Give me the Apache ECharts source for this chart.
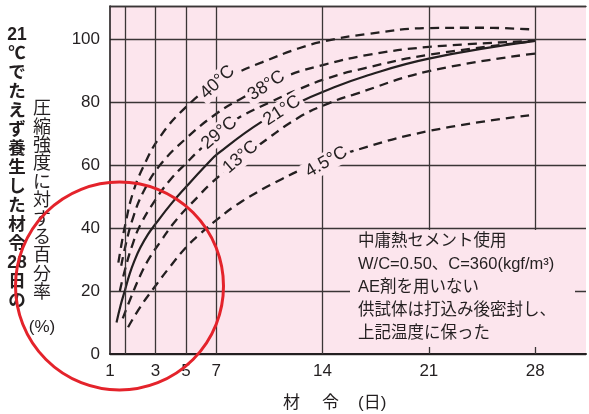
<!DOCTYPE html>
<html><head><meta charset="utf-8">
<script src="https://cdn.jsdelivr.net/npm/echarts@6/dist/echarts.min.js"></script>
<style>html,body{margin:0;padding:0;background:#fff}#c{width:589px;height:414px}</style>
</head><body><div id="c"></div>
<script>
// ---- data ----
const xTickDays = [0, 3, 5, 7, 14, 21, 28];
const xTickLabels = ['1', '3', '5', '7', '14', '21', '28'];
const xGridDays = [1, 3, 5, 7, 14, 21, 28];
const yTicks = [0, 20, 40, 60, 80, 100];

const curve40 = [[0.55,29],[0.8,36],[1.0,41],[1.5,51],[2.2,59.5],[3.3,69],[5,78.4],[7,86],[8.5,89.6],[10,92.6],[12.4,97],[14.2,99.4],[16.8,101.5],[21,103.5],[24.5,103.6],[28,103]];
const curve38 = [[0.74,28],[1.0,34],[1.5,43],[2.2,51.5],[3.3,60],[5,68.4],[7,76.3],[8.6,81],[10.3,85.2],[11.8,88.6],[14.2,92],[16.8,94.8],[21,97.5],[28,99.4]];
const curve29 = [[0.65,20],[1.0,27],[1.5,35],[2.0,41],[3.0,49],[4.0,55.5],[5.1,61],[5.9,64.8],[7.2,70.2],[8.3,74.5],[10.7,80.3],[12.4,84],[14.3,87.5],[16.8,90.8],[21,95],[28,99.4]];
const curve21 = [[0.43,10],[0.7,15.5],[1.0,20.5],[1.3,25.5],[1.6,29.5],[2.0,33.8],[2.5,38],[3.0,41.3],[4.0,47.5],[5.0,53],[6.4,60.3],[7.1,63.6],[10,73.8],[12.4,79.8],[14.2,83.6],[16.8,88.2],[21,93.8],[28,99.4]];
const curve13 = [[0.84,11.3],[1.3,17],[2.0,25],[2.6,30.5],[3.3,35.5],[4.35,42.5],[5.9,50.5],[6.5,53.5],[8.0,59.8],[8.6,62.2],[9.7,66],[12.4,75],[14.4,79.6],[16,82.3],[21,89.8],[28,95.4]];
const curve45 = [[1.19,8.5],[2.0,15],[2.85,20.7],[4.0,28],[5.0,33.8],[5.9,38],[7.0,42.5],[8.7,48.5],[11.3,55.5],[13.1,59.5],[15.7,64],[21,70.8],[27.6,75.8]];

const curveLabelTexts = ['40°C', '38°C', '29°C', '21°C', '13°C', '4.5°C'];
const curveLabelAnchors = [[7.08,86.3],[10.3,85.2],[7.2,70.2],[11.33,77.3],[8.6,62.5],[14.25,61]];

const noteLines = ['中庸熱セメント使用', 'W/C=0.50、C=360(kgf/m³)', 'AE剤を用いない', '供試体は打込み後密封し、', '上記温度に保った'];
const yTitle1 = ['21', '℃', 'で', 'た', 'え', 'ず', '養', '生', 'し', 'た', '材', '令', '28', '日', 'の'];
const yTitle2 = ['圧', '縮', '強', '度', 'に', '対', 'す', 'る', '百', '分', '率'];
const xTitle = ['材', '令', '(日)'];

// ---- styles ----
const PINK = '#fce5ed';
const INK = '#231f20';
const GRIDC = '#3a3536';
const FONT = '"Liberation Sans", Arial, "Noto Sans CJK JP", sans-serif';
const labelRot = [43, 33, 40, 33, 41, 30];

const chart = echarts.init(document.getElementById('c'), null, {renderer: 'canvas'});

function curveSeries(name, data, solid) {
  return {
    name, type: 'line', data, showSymbol: false, symbol: 'none',
    smooth: 0.45, z: 3, silent: true,
    lineStyle: solid ? {color: INK, width: 2.2, type: 'solid'}
                     : {color: INK, width: 2.3, type: [9, 6]}
  };
}

const tickLabelMap = {};
xTickDays.forEach((d, i) => tickLabelMap[d] = xTickLabels[i]);

const baseGraphic = [
  {type: 'rect', z: 10, silent: true, shape: {x: 350, y: 230, width: 225, height: 117}, style: {fill: PINK}},
  {type: 'text', z: 11, silent: true, x: 358, y: 230,
    style: {text: noteLines.join('\n'), font: '16.5px ' + FONT, lineHeight: 23, fill: INK, verticalAlign: 'top', align: 'left'}},
  {type: 'text', z: 11, silent: true, x: 17, y: 26,
    style: {text: yTitle1.join('\n'), font: 'bold 17.5px ' + FONT, lineHeight: 19, fill: INK, verticalAlign: 'top', align: 'center'}},
  {type: 'text', z: 11, silent: true, x: 42, y: 100,
    style: {text: yTitle2.join('\n'), font: '18px ' + FONT, lineHeight: 18.4, fill: INK, verticalAlign: 'top', align: 'center'}},
  {type: 'text', z: 11, silent: true, x: 42, y: 319,
    style: {text: '(%)', font: '17px ' + FONT, fill: INK, verticalAlign: 'top', align: 'center'}},
  {type: 'text', z: 11, silent: true, x: 283, y: 395,
    style: {text: xTitle[0], font: '17px ' + FONT, fill: INK, verticalAlign: 'top'}},
  {type: 'text', z: 11, silent: true, x: 322, y: 395,
    style: {text: xTitle[1], font: '17px ' + FONT, fill: INK, verticalAlign: 'top'}},
  {type: 'text', z: 11, silent: true, x: 358, y: 395,
    style: {text: xTitle[2], font: '17px ' + FONT, fill: INK, verticalAlign: 'top'}},
  {type: 'circle', z: 20, silent: true, shape: {cx: 119.5, cy: 286, r: 104},
    style: {fill: 'none', stroke: '#e4232b', lineWidth: 3}}
];

const option = {
  animation: false,
  backgroundColor: '#ffffff',
  grid: {left: 110, top: 6, width: 479, height: 348, backgroundColor: PINK, show: true, borderWidth: 0},
  xAxis: [{
    type: 'value', min: 0, max: 31.35, interval: 1,
    axisLine: {show: true, lineStyle: {color: INK, width: 2}},
    axisTick: {show: false},
    splitLine: {show: false},
    axisLabel: {
      show: true, interval: 0, margin: 9, fontSize: 17, color: INK, fontFamily: FONT,
      formatter: v => (tickLabelMap[v] !== undefined ? tickLabelMap[v] : '')
    }
  }, {
    type: 'value', min: 0, max: 31.35, position: 'top',
    axisLine: {show: true, onZero: false, lineStyle: {color: GRIDC, width: 1.4}},
    axisTick: {show: false}, axisLabel: {show: false}, splitLine: {show: false}
  }],
  yAxis: {
    type: 'value', min: 0, max: 110.5, interval: 20,
    axisLine: {show: true, lineStyle: {color: INK, width: 1.6}},
    axisTick: {show: false},
    splitLine: {show: true, lineStyle: {color: GRIDC, width: 1.3}},
    axisLabel: {
      margin: 10, fontSize: 17, color: INK, fontFamily: FONT,
      formatter: v => (yTicks.indexOf(v) >= 0 ? String(v) : '')
    }
  },
  series: [
    {
      type: 'line', data: [], silent: true, z: 1,
      markLine: {
        silent: true, symbol: ['none', 'none'], label: {show: false},
        lineStyle: {color: GRIDC, width: 1.3, type: 'solid'},
        emphasis: {disabled: true},
        data: xGridDays.map(d => ({xAxis: d}))
      }
    },
    curveSeries('40°C', curve40, false),
    curveSeries('38°C', curve38, false),
    curveSeries('29°C', curve29, false),
    curveSeries('21°C', curve21, true),
    curveSeries('13°C', curve13, false),
    curveSeries('4.5°C', curve45, false)
  ],
  graphic: baseGraphic
};
chart.setOption(option);

// curve labels placed at data anchors through the grid's scales
const labelGraphic = curveLabelAnchors.map((p, i) => {
  const px = chart.convertToPixel({gridIndex: 0}, p);
  return {
    type: 'text', z: 8, silent: true, x: px[0], y: px[1],
    rotation: labelRot[i] * Math.PI / 180,
    style: {
      text: curveLabelTexts[i], font: '18px ' + FONT, fill: INK,
      align: 'center', verticalAlign: 'middle',
      backgroundColor: PINK, padding: [1, 3]
    }
  };
});
chart.setOption({graphic: baseGraphic.concat(labelGraphic)});
</script>
</body></html>
